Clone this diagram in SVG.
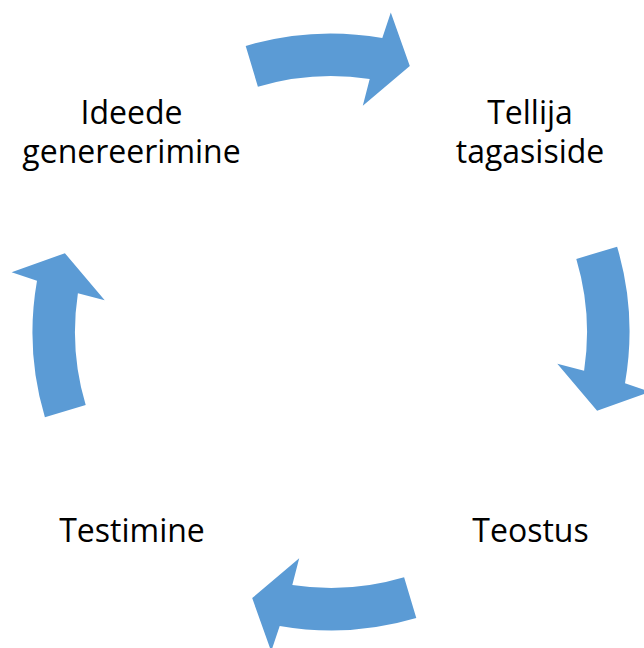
<svg xmlns="http://www.w3.org/2000/svg" xmlns:xlink="http://www.w3.org/1999/xlink" width="644" height="648" viewBox="0 0 644 648">
  <style>
    .lbl { font-family: "Open Sans", "Noto Sans", "DejaVu Sans", sans-serif; font-size: 32px; fill: #000000; text-anchor: middle; }
    .arr { fill: #5B9BD5; stroke: none; }
  </style>
  <defs>
    <path id="cycArrow" class="arr" d="M245.7,45.9 A298.5,298.5 0 0 1 382.3,38.0 L390.8,12.6 L409.8,65.9 L362.8,105.7 L369.7,78.9 A256,256 0 0 0 257.9,86.7 Z"/>
  </defs>
  <rect width="644" height="648" fill="#ffffff"/>
  <g id="connectors">
    <use xlink:href="#cycArrow" href="#cycArrow"/>
    <use xlink:href="#cycArrow" href="#cycArrow" transform="rotate(90 331 332)"/>
    <use xlink:href="#cycArrow" href="#cycArrow" transform="rotate(180 331 332)"/>
    <use xlink:href="#cycArrow" href="#cycArrow" transform="rotate(270 331 332)"/>
  </g>
  <g id="node-ideede">
    <text class="lbl" x="131.5" y="124">Ideede</text>
    <text class="lbl" x="131.5" y="163">genereerimine</text>
  </g>
  <g id="node-tellija">
    <text class="lbl" x="530" y="124">Tellija</text>
    <text class="lbl" x="530" y="163">tagasiside</text>
  </g>
  <g id="node-teostus">
    <text class="lbl" x="530.5" y="542">Teostus</text>
  </g>
  <g id="node-testimine">
    <text class="lbl" x="132" y="542">Testimine</text>
  </g>
</svg>
